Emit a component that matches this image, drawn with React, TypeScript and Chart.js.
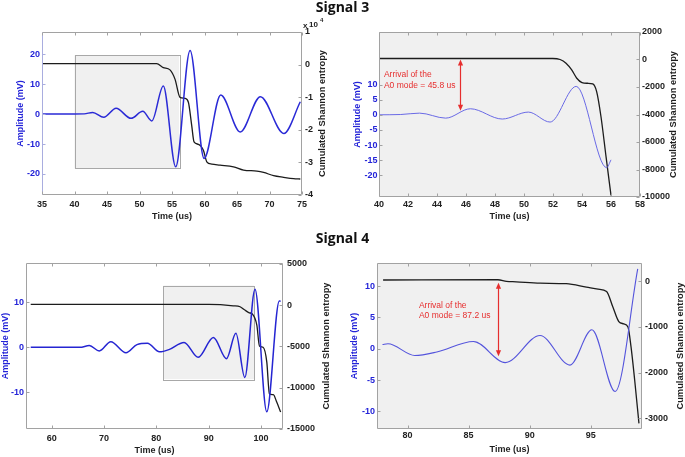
import { useEffect, useRef } from "react";
import { Chart, registerables } from "chart.js";
Chart.register(...registerables);

// ---------- Data ----------
// Signal 3 – full window
const s3FullTime = [35, 40, 41.5, 42.8, 44.5, 46.4, 48.7, 50.5, 51.9, 53.66, 55.57, 57.78, 59.94, 62.5, 65.5, 68.6, 72.2, 74.74];
const s3FullAmp = [0, 0, 0.05, 0.55, -1.1, 1.9, -1.45, 0.9, -2.3, 9.36, -17.6, 21.2, -14.8, 6.35, -6.0, 5.8, -6.5, 4.1];
const s3FullEntTime = [35, 52.64, 53.66, 54.69, 55.46, 56.23, 57.0, 57.52, 58.03, 58.39, 59.06, 59.83, 60.35, 61.12, 62.4, 64.46, 66.0, 68.06, 69.09, 70.63, 72.17, 73.71, 74.74];
const s3FullEnt = [300, 300, -910, -1620, -4460, -10040, -10340, -11560, -18660, -23730, -24440, -26270, -29820, -30530, -30830, -31340, -32350, -32660, -33060, -34080, -34580, -34990, -35090];

// Signal 3 – zoomed window
const s3ZoomTime = [40, 41.5, 42.8, 44.6, 46.3, 48.5, 50.3, 51.8, 53.6, 55.7, 56.0];
const s3ZoomAmp = [0, 0.1, 0.55, -1.1, 2.0, -1.4, 0.9, -2.4, 9.4, -17.5, -14.9];
const s3ZoomEntTime = [40, 51.98, 52.49, 52.9, 53.29, 53.64, 54.0, 54.39, 54.74, 55.01, 55.31, 55.66, 56.0];
const s3ZoomEnt = [73, 73, 0, -268, -755, -1363, -1680, -1728, -1777, -2337, -4163, -7083, -9883];

// Signal 4 – full window
const s4FullTime = [56, 65.4, 67.2, 69.1, 71.3, 74.2, 76.3, 78.3, 80.6, 82.4, 85.3, 88.0, 90.9, 93.4, 95.2, 96.9, 98.85, 101.1, 103.5, 103.75];
const s4FullAmp = [0, 0, 0.4, -0.8, 1.26, -1.2, 0.6, 0.9, -1.0, -0.5, 1.1, -2.2, 2.2, -2.5, 3.1, -6.7, 12.9, -14.3, 10.3, 10.2];
const s4FullEntTime = [56, 90, 94.7, 96, 96.9, 97.75, 98.3, 99.2, 99.7, 100.4, 101.1, 101.6, 102.35, 103, 103.75];
const s4FullEnt = [80, 80, -80, -200, -600, -930, -1050, -2430, -4940, -5100, -6880, -10730, -10850, -11740, -12950];

// Signal 4 – zoomed window
const s4ZoomTime = [77.95, 78.4, 80.6, 82.4, 85.4, 88.0, 90.85, 93.3, 95.1, 97.0, 98.85];
const s4ZoomAmp = [0.7, 0.8, -1.07, -0.5, 1.17, -2.2, 2.13, -2.6, 3.04, -6.8, 12.75];
const s4ZoomEntTime = [78, 87.4, 88.1, 88.9, 90.85, 93.0, 94.65, 95.6, 96.3, 96.8, 97.3, 97.7, 98.05, 98.3, 98.6, 98.95];
const s4ZoomEnt = [30, 35, 0, -10, -40, -50, -125, -170, -220, -550, -880, -930, -1000, -1430, -2160, -3110];

// Tick values
const s3FullXTicks = [35, 40, 45, 50, 55, 60, 65, 70, 75];
const s3FullYTicks = [-20, -10, 0, 10, 20];
const s3FullY2Ticks = [-40000, -30000, -20000, -10000, 0, 10000];
const s3ZoomXTicks = [40, 42, 44, 46, 48, 50, 52, 54, 56, 58];
const s3ZoomYTicks = [-20, -15, -10, -5, 0, 5, 10];
const s3ZoomY2Ticks = [-10000, -8000, -6000, -4000, -2000, 0, 2000];
const s4FullXTicks = [60, 70, 80, 90, 100];
const s4FullYTicks = [-10, 0, 10];
const s4FullY2Ticks = [-15000, -10000, -5000, 0, 5000];
const s4ZoomXTicks = [80, 85, 90, 95];
const s4ZoomYTicks = [-10, -5, 0, 5, 10];
const s4ZoomY2Ticks = [-3000, -2000, -1000, 0];

// Annotation text
const arrival3 = ["Arrival of the", "A0 mode = 45.8 us"];
const arrival4 = ["Arrival of the", "A0 mode = 87.2 us"];

// ---------- Styling ----------
const FONT = "'Liberation Sans', Arial, Helvetica, sans-serif";
const BLUE_TXT = "#2424d8";
const FRAME = "#a2a2a2";
const RED = "#e62e2e";

type Panel = {
  left: number; top: number; w: number; h: number;
  padTop: number; leftW: number; rightW: number; xH: number;
  xMin: number; xMax: number; xTicks: number[]; xPad: number;
  yMin: number; yMax: number; yTicks: number[]; yPad: number;
  y2Min: number; y2Max: number; y2Ticks: number[]; y2Pad: number; y2Scale?: number;
  leftTitleX: number; rightTitleX: number; xTitleY: number;
  bg?: string; box?: [number, number, number, number]; leftFrame?: string;
  arrow?: { x: number; top: number; bot: number; tx: number; ty: number[]; lines: string[] };
  exponent?: boolean;
  ampT: number[]; ampV: number[]; entT: number[]; entV: number[];
  blue: string; blueW: number;
};

const panels: Panel[] = [
  {
    left: 0, top: 0, w: 345, h: 230, padTop: 32, leftW: 42, rightW: 43, xH: 35,
    xMin: 35, xMax: 75, xTicks: s3FullXTicks, xPad: 4,
    yMin: -27.0, yMax: 27.35, yTicks: s3FullYTicks, yPad: 2,
    y2Min: -40000, y2Max: 10000, y2Ticks: s3FullY2Ticks, y2Pad: 3, y2Scale: 10000,
    leftTitleX: 20.7, rightTitleX: 322, xTitleY: 217,
    box: [40, 56.08, 19.6, -18.2], leftFrame: "#a9addf", exponent: true,
    ampT: s3FullTime, ampV: s3FullAmp, entT: s3FullEntTime, entV: s3FullEnt,
    blue: "#2a2ad6", blueW: 1.5,
  },
  {
    left: 345, top: 0, w: 340, h: 230, padTop: 32, leftW: 34, rightW: 45, xH: 33,
    xMin: 40, xMax: 58, xTicks: s3ZoomXTicks, xPad: 2,
    yMin: -27.2, yMax: 27.4, yTicks: s3ZoomYTicks, yPad: 1.5,
    y2Min: -10000, y2Max: 2000, y2Ticks: s3ZoomY2Ticks, y2Pad: 2,
    leftTitleX: 13, rightTitleX: 328, xTitleY: 217,
    bg: "#f0f0f0",
    arrow: { x: 45.56, top: 0, bot: 1.3, tx: 40.34, ty: [13.3, 9.7], lines: arrival3 },
    ampT: s3ZoomTime, ampV: s3ZoomAmp, entT: s3ZoomEntTime, entV: s3ZoomEnt,
    blue: "#6a6ae6", blueW: 1,
  },
  {
    left: 0, top: 232, w: 345, h: 225, padTop: 31, leftW: 26, rightW: 62, xH: 28,
    xMin: 55.1, xMax: 104.2, xTicks: s4FullXTicks, xPad: 4.5,
    yMin: -18.1, yMax: 18.7, yTicks: s4FullYTicks, yPad: 2,
    y2Min: -15000, y2Max: 5100, y2Ticks: s4FullY2Ticks, y2Pad: 4,
    leftTitleX: 6, rightTitleX: 326, xTitleY: 219,
    box: [81.34, 98.66, 13.7, -7.04],
    ampT: s4FullTime, ampV: s4FullAmp, entT: s4FullEntTime, entV: s4FullEnt,
    blue: "#2525d2", blueW: 1.5,
  },
  {
    left: 345, top: 232, w: 340, h: 225, padTop: 31, leftW: 32, rightW: 43, xH: 28,
    xMin: 77.5, xMax: 99.2, xTicks: s4ZoomXTicks, xPad: 1,
    yMin: -12.8, yMax: 13.7, yTicks: s4ZoomYTicks, yPad: 2,
    y2Min: -3234, y2Max: 402, y2Ticks: s4ZoomY2Ticks, y2Pad: 3,
    leftTitleX: 10, rightTitleX: 335, xTitleY: 218,
    bg: "#f0f0f0",
    arrow: { x: 87.38, top: -30, bot: -1.2, tx: 80.93, ty: [6.9, 5.3], lines: arrival4 },
    ampT: s4ZoomTime, ampV: s4ZoomAmp, entT: s4ZoomEntTime, entV: s4ZoomEnt,
    blue: "#5454dc", blueW: 1.1,
  },
];

function zip(t: number[], v: number[]) {
  return t.map((x, i) => ({ x, y: v[i] }));
}

function decor(p: Panel) {
  return {
    id: "decor",
    beforeDraw(chart: any) {
      const { ctx, chartArea: a } = chart;
      if (p.bg) {
        ctx.save();
        ctx.fillStyle = p.bg;
        ctx.fillRect(a.left, a.top, a.right - a.left, a.bottom - a.top);
        ctx.restore();
      }
    },
    beforeDatasetsDraw(chart: any) {
      if (!p.box) return;
      const { ctx, scales } = chart;
      const x0 = scales.x.getPixelForValue(p.box[0]);
      const x1 = scales.x.getPixelForValue(p.box[1]);
      const y0 = scales.y.getPixelForValue(p.box[2]);
      const y1 = scales.y.getPixelForValue(p.box[3]);
      ctx.save();
      ctx.fillStyle = "#f0f0f0";
      ctx.fillRect(x0, y0, x1 - x0, y1 - y0);
      ctx.strokeStyle = "#a8a8a8";
      ctx.lineWidth = 1;
      ctx.strokeRect(Math.round(x0) + 0.5, Math.round(y0) + 0.5, Math.round(x1 - x0), Math.round(y1 - y0));
      ctx.restore();
    },
    afterDraw(chart: any) {
      const { ctx, chartArea: a, scales } = chart;
      const L = Math.round(a.left) + 0.5, R = Math.round(a.right) - 0.5;
      const T = Math.round(a.top) + 0.5, B = Math.round(a.bottom) - 0.5;
      ctx.save();
      ctx.lineWidth = 1;
      ctx.strokeStyle = FRAME;
      ctx.beginPath();
      ctx.moveTo(L, T); ctx.lineTo(R, T); ctx.lineTo(R, B); ctx.lineTo(L, B);
      ctx.stroke();
      ctx.strokeStyle = p.leftFrame || FRAME;
      ctx.beginPath(); ctx.moveTo(L, T); ctx.lineTo(L, B); ctx.stroke();
      // inward tick marks
      ctx.strokeStyle = FRAME;
      ctx.beginPath();
      for (const t of scales.x.ticks) {
        const px = Math.round(scales.x.getPixelForValue(t.value)) + 0.5;
        ctx.moveTo(px, B); ctx.lineTo(px, B - 3);
        ctx.moveTo(px, T); ctx.lineTo(px, T + 3);
      }
      for (const t of scales.y2.ticks) {
        const py = Math.round(scales.y2.getPixelForValue(t.value)) + 0.5;
        ctx.moveTo(R, py); ctx.lineTo(R - 3, py);
      }
      ctx.stroke();
      ctx.strokeStyle = p.leftFrame || FRAME;
      ctx.beginPath();
      for (const t of scales.y.ticks) {
        const py = Math.round(scales.y.getPixelForValue(t.value)) + 0.5;
        ctx.moveTo(L, py); ctx.lineTo(L + 3, py);
      }
      ctx.stroke();

      // axis titles
      const midY = (a.top + a.bottom) / 2;
      const midX = (a.left + a.right) / 2;
      ctx.textAlign = "center";
      ctx.textBaseline = "middle";
      ctx.fillStyle = "#1e1e1e";
      ctx.font = `bold 9px ${FONT}`;
      ctx.fillText("Time (us)", midX, p.xTitleY);
      ctx.save();
      ctx.translate(p.leftTitleX, midY);
      ctx.rotate(-Math.PI / 2);
      ctx.fillStyle = BLUE_TXT;
      ctx.fillText("Amplitude (mV)", 0, 0);
      ctx.restore();
      ctx.save();
      ctx.translate(p.rightTitleX, midY);
      ctx.rotate(-Math.PI / 2);
      ctx.font = `bold 9.3px ${FONT}`;
      ctx.fillStyle = "#1e1e1e";
      ctx.fillText("Cumulated Shannon entropy", 0, 0);
      ctx.restore();

      // exponent label
      if (p.exponent) {
        ctx.textAlign = "left";
        ctx.fillStyle = "#1e1e1e";
        ctx.font = `bold 8px ${FONT}`;
        ctx.fillText("x", a.right + 1, a.top - 6);
        ctx.fillText("10", a.right + 7, a.top - 7);
        ctx.font = `bold 6px ${FONT}`;
        ctx.fillText("4", a.right + 18, a.top - 12);
      }

      // arrival arrow + text
      if (p.arrow) {
        const ar = p.arrow;
        const ax = Math.round(scales.x.getPixelForValue(ar.x)) + 0.5;
        const yT = scales.y2.getPixelForValue(ar.top);
        const yB = scales.y.getPixelForValue(ar.bot);
        const hl = 6, hw = 2.6;
        ctx.strokeStyle = RED;
        ctx.fillStyle = RED;
        ctx.lineWidth = 1.2;
        ctx.beginPath();
        ctx.moveTo(ax, yT + hl - 1); ctx.lineTo(ax, yB - hl + 1);
        ctx.stroke();
        ctx.beginPath();
        ctx.moveTo(ax, yT); ctx.lineTo(ax - hw, yT + hl); ctx.lineTo(ax + hw, yT + hl); ctx.closePath();
        ctx.fill();
        ctx.beginPath();
        ctx.moveTo(ax, yB); ctx.lineTo(ax - hw, yB - hl); ctx.lineTo(ax + hw, yB - hl); ctx.closePath();
        ctx.fill();
        ctx.font = `8.5px ${FONT}`;
        ctx.textAlign = "left";
        ctx.textBaseline = "middle";
        const tx = scales.x.getPixelForValue(ar.tx);
        ar.lines.forEach((s, i) => ctx.fillText(s, tx, scales.y.getPixelForValue(ar.ty[i])));
      }
      ctx.restore();
    },
  };
}

function setTicks(values: number[]) {
  return (s: any) => { s.ticks = values.map((v) => ({ value: v })); };
}

function buildChart(canvas: HTMLCanvasElement, p: Panel) {
  const tickFont = { family: FONT, size: 9, weight: "bold" as const };
  return new Chart(canvas, {
    type: "line",
    data: {
      datasets: [
        {
          data: zip(p.ampT, p.ampV), yAxisID: "y", borderColor: p.blue, borderWidth: p.blueW,
          pointRadius: 0, cubicInterpolationMode: "monotone", fill: false,
        },
        {
          data: zip(p.entT, p.entV), yAxisID: "y2", borderColor: "#1c1c1c", borderWidth: 1.3,
          pointRadius: 0, cubicInterpolationMode: "monotone", fill: false,
        },
      ],
    },
    options: {
      responsive: false,
      animation: false,
      events: [],
      layout: { padding: { top: p.padTop, left: 0, right: 0, bottom: 0 } },
      plugins: { legend: { display: false }, tooltip: { enabled: false }, title: { display: false } },
      scales: {
        x: {
          type: "linear", min: p.xMin, max: p.xMax,
          grid: { display: false, drawTicks: false }, border: { display: false },
          ticks: {
            padding: p.xPad, font: tickFont, color: "#222",
            maxRotation: 0, autoSkip: false, callback: (v: any) => String(v),
          },
          afterBuildTicks: setTicks(p.xTicks),
          afterFit: (s: any) => { s.height = p.xH; },
        },
        y: {
          type: "linear", position: "left", min: p.yMin, max: p.yMax,
          grid: { display: false, drawTicks: false }, border: { display: false },
          ticks: {
            padding: p.yPad, font: tickFont, color: BLUE_TXT, autoSkip: false,
            callback: (v: any) => String(v),
          },
          afterBuildTicks: setTicks(p.yTicks),
          afterFit: (s: any) => { s.width = p.leftW; },
        },
        y2: {
          type: "linear", position: "right", min: p.y2Min, max: p.y2Max,
          grid: { display: false, drawTicks: false }, border: { display: false },
          ticks: {
            padding: p.y2Pad, font: tickFont, color: "#1e1e1e", autoSkip: false,
            callback: (v: any) => String(p.y2Scale ? Math.round(v / p.y2Scale) : v),
          },
          afterBuildTicks: setTicks(p.y2Ticks),
          afterFit: (s: any) => { s.width = p.rightW; },
        },
      },
    } as any,
    plugins: [decor(p)],
  });
}

function PanelCanvas({ p }: { p: Panel }) {
  const ref = useRef<HTMLCanvasElement>(null);
  useEffect(() => {
    const ch = buildChart(ref.current!, p);
    return () => ch.destroy();
  }, [p]);
  return (
    <canvas
      ref={ref}
      width={p.w}
      height={p.h}
      style={{ position: "absolute", left: p.left, top: p.top, width: p.w, height: p.h }}
    />
  );
}

const titleStyle: any = {
  position: "absolute", left: 0, width: 685, textAlign: "center",
  font: "bold 14px 'Open Sans', 'Noto Sans', sans-serif", lineHeight: "14px", color: "#111", zIndex: 2,
};

export default function App() {
  return (
    <div style={{ position: "fixed", left: 0, top: 0, width: 685, height: 457, background: "#fff", overflow: "hidden" }}>
      {panels.map((p, i) => <PanelCanvas key={i} p={p} />)}
      <div style={{ ...titleStyle, top: 0 }}>Signal 3</div>
      <div style={{ ...titleStyle, top: 231 }}>Signal 4</div>
    </div>
  );
}
